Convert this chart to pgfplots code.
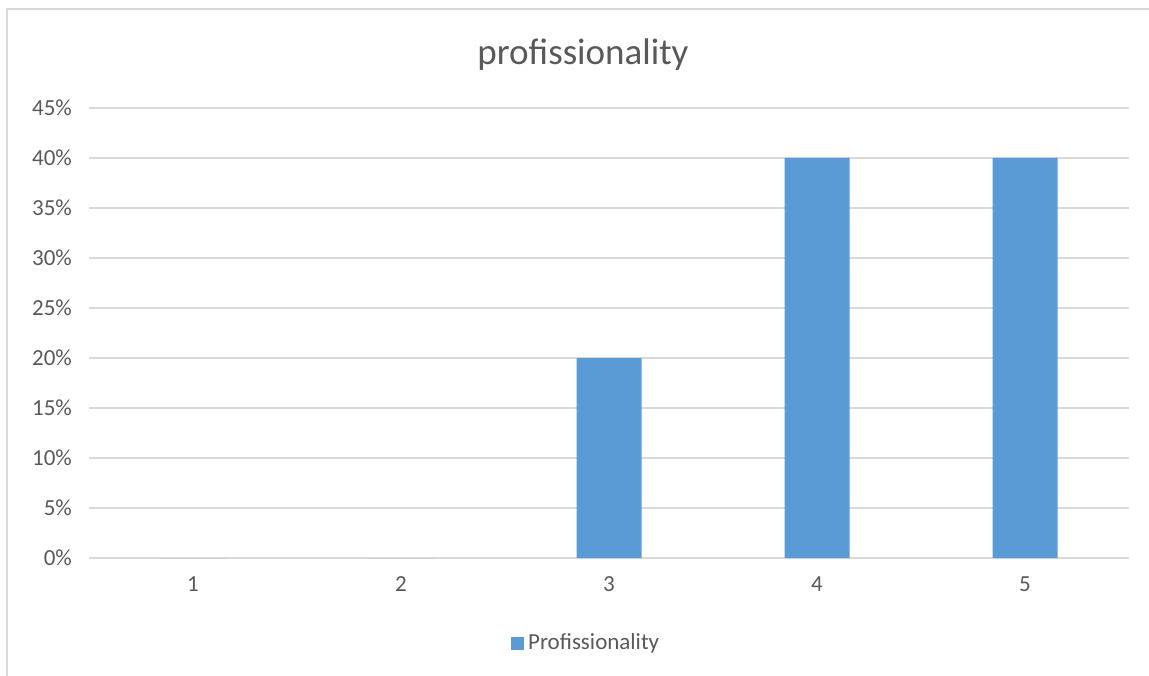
\documentclass[border=0pt]{standalone}
\usepackage{pgfplots}
\pgfplotsset{compat=1.18}
\usepackage{fontspec}
\setmainfont{Carlito}
\definecolor{barblue}{HTML}{5B9BD5}
\definecolor{gridgray}{HTML}{D9D9D9}
\definecolor{txtgray}{HTML}{595959}
\begin{document}
\begin{tikzpicture}
  % page is 1149x675 px at 0.5pt per px; origin = lower left of plot area
  \useasboundingbox (-44.5pt,-58.5pt) rectangle (530pt,279pt);
  \draw[gridgray, line width=0.7pt] (-41pt,-60pt) -- (-41pt,274.5pt) -- (532pt,274.5pt);
  \begin{axis}[
    at={(0,0)}, anchor=origin,
    scale only axis,
    width=520pt, height=225pt,
    xmin=0.5, xmax=5.5,
    ymin=0, ymax=45,
    ytick={0,5,...,45},
    xtick={1,2,3,4,5},
    /pgf/number format/assume math mode=true,
    yticklabel={\pgfmathprintnumber{\tick}\%},
    ymajorgrids,
    grid style={gridgray, line width=0.7pt},
    axis line style={draw=none},
    major tick length=0pt,
    tick label style={font=\fontsize{11.5}{13}\selectfont, text=txtgray},
    yticklabel style={xshift=-5pt},
    xticklabel style={yshift=-6pt},
    title={profissionality},
    title style={font=\fontsize{18.5}{21}\selectfont, text=txtgray, at={(0.475,1)}, anchor=south, yshift=9pt},
    legend style={draw=none, at={(0.479,-0.19)}, anchor=center,
      font=\fontsize{11.5}{13}\selectfont, text=txtgray},
    legend image code/.code={\fill[barblue] (0pt,-3pt) rectangle (6.5pt,3.5pt);},
  ]
  \addplot[ybar, bar width=32.5pt, fill=barblue, draw=none]
    coordinates {(1,0) (2,0) (3,20) (4,40) (5,40)};
  \addlegendentry{Profissionality}
  \end{axis}
\end{tikzpicture}
\end{document}
